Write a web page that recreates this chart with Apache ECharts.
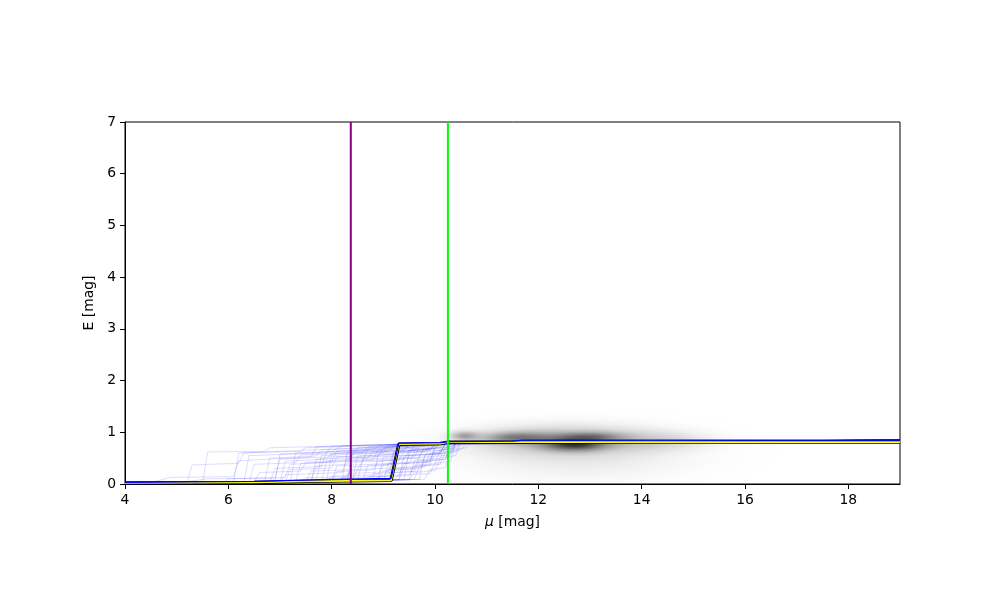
<!DOCTYPE html>
<html>
<head>
<meta charset="utf-8">
<script src="https://cdn.jsdelivr.net/npm/echarts@6/dist/echarts.min.js"></script>
<style>html,body{margin:0;padding:0;background:#fff}#c{width:1000px;height:600px}</style>
</head>
<body>
<div id="c"></div>
<script>
// ---- data ----
const xTicks = [4, 6, 8, 10, 12, 14, 16, 18];
const yTicks = [0, 1, 2, 3, 4, 5, 6, 7];
const xRange = [4, 19];
const yRange = [0, 7];
const purpleLineX = 8.37;
const greenLineX = 10.25;

// density blobs: [mu, E, sigmaMu, sigmaE, peak opacity]
const densityBlobs = [
  [12.8, 0.60, 1.40, 0.32, 0.10],
  [12.5, 0.85, 1.05, 0.17, 0.30],
  [11.6, 0.90, 0.45, 0.07, 0.42],
  [13.0, 0.91, 0.40, 0.06, 0.40],
  [12.7, 0.77, 0.38, 0.08, 0.78],
  [10.57, 0.93, 0.18, 0.06, 0.33],
  [14.3, 0.84, 0.70, 0.12, 0.12]
];

// posterior sample tracks [mu, E]
const sampleTracks = [
  [[4,0],[5.5,0.02],[5.6,0.62],[6.7,0.63],[6.8,0.70],[9.4,0.77],[10.4,0.80],[19,0.84]],
  [[4,0],[5.2,0.03],[5.3,0.37],[6.2,0.40],[6.3,0.60],[8.1,0.68],[8.2,0.74],[10.3,0.80],[19,0.85]],
  [[4,0],[4.5,0.03],[4.9,0.13],[6.1,0.14],[6.2,0.45],[7.6,0.52],[7.7,0.72],[10.4,0.80],[19,0.84]],
  [[4,0],[6.3,0.02],[6.4,0.55],[7.9,0.60],[8.0,0.73],[10.2,0.79],[19,0.85]],
  [[4,0],[6.8,0.02],[6.9,0.30],[7.8,0.34],[7.9,0.62],[9.0,0.66],[9.1,0.76],[10.3,0.80],[19,0.85]],
  [[4,0],[7.0,0.03],[7.1,0.18],[8.2,0.22],[8.3,0.50],[9.5,0.56],[9.6,0.75],[10.4,0.80],[19,0.84]],
  [[4,0],[7.3,0.03],[7.4,0.40],[8.6,0.45],[8.7,0.68],[10.3,0.78],[19,0.85]],
  [[4,0],[7.5,0.04],[7.6,0.25],[8.5,0.28],[8.6,0.45],[9.7,0.50],[9.8,0.74],[10.4,0.80],[19,0.85]],
  [[4,0],[7.7,0.04],[7.8,0.55],[9.0,0.60],[9.1,0.72],[10.3,0.79],[19,0.84]],
  [[4,0],[7.9,0.05],[8.0,0.15],[8.9,0.18],[9.0,0.38],[9.9,0.42],[10.0,0.74],[10.4,0.80],[19,0.85]],
  [[4,0],[8.0,0.05],[8.1,0.35],[9.2,0.40],[9.3,0.70],[10.3,0.79],[19,0.85]],
  [[4,0],[8.2,0.05],[8.3,0.62],[9.4,0.66],[9.5,0.75],[10.4,0.80],[19,0.84]],
  [[4,0],[8.4,0.06],[8.5,0.28],[9.4,0.32],[9.5,0.55],[10.1,0.58],[10.2,0.78],[19,0.85]],
  [[4,0],[8.5,0.06],[8.6,0.48],[9.6,0.52],[9.7,0.72],[10.4,0.80],[19,0.85]],
  [[4,0],[8.7,0.06],[8.8,0.20],[9.6,0.24],[9.7,0.45],[10.2,0.48],[10.3,0.78],[19,0.84]],
  [[4,0],[8.8,0.07],[8.9,0.58],[9.8,0.62],[9.9,0.76],[10.4,0.80],[19,0.85]],
  [[4,0],[9.0,0.07],[9.1,0.40],[9.9,0.45],[10.0,0.70],[10.4,0.80],[19,0.85]],
  [[4,0],[9.1,0.07],[9.2,0.30],[9.8,0.33],[9.9,0.60],[10.3,0.64],[10.4,0.79],[19,0.84]],
  [[4,0],[9.3,0.08],[9.4,0.55],[10.1,0.60],[10.2,0.77],[19,0.85]],
  [[4,0],[9.5,0.08],[9.6,0.22],[10.0,0.26],[10.1,0.50],[10.4,0.55],[10.5,0.79],[19,0.85]],
  [[4,0],[5.9,0.02],[6.0,0.10],[6.9,0.12],[7.0,0.48],[8.4,0.54],[8.5,0.70],[10.3,0.79],[19,0.85]],
  [[4,0],[6.5,0.03],[6.6,0.22],[7.4,0.25],[7.5,0.42],[8.8,0.47],[8.9,0.66],[10.0,0.70],[10.1,0.78],[19,0.84]],
  [[4,0],[6.1,0.02],[6.2,0.60],[7.4,0.63],[7.5,0.70],[9.8,0.77],[10.4,0.80],[19,0.85]],
  [[4,0],[7.2,0.03],[7.3,0.60],[8.8,0.66],[8.9,0.74],[10.4,0.80],[19,0.84]],
  [[4,0],[7.6,0.04],[7.7,0.35],[8.3,0.38],[8.4,0.58],[9.6,0.64],[9.7,0.77],[19,0.85]],
  [[4,0],[8.1,0.05],[8.2,0.12],[9.0,0.15],[9.1,0.28],[9.7,0.30],[9.8,0.52],[10.3,0.56],[10.4,0.79],[19,0.85]],
  [[4,0],[8.6,0.06],[8.7,0.36],[9.5,0.40],[9.6,0.62],[10.2,0.66],[10.3,0.79],[19,0.85]],
  [[4,0],[8.9,0.07],[9.0,0.52],[9.7,0.56],[9.8,0.68],[10.3,0.72],[10.4,0.80],[19,0.84]],
  [[4,0],[9.2,0.08],[9.3,0.18],[9.9,0.20],[10.0,0.40],[10.3,0.44],[10.4,0.78],[19,0.85]],
  [[4,0],[9.4,0.08],[9.5,0.65],[10.2,0.70],[10.3,0.79],[19,0.85]],
  [[4,0],[7.8,0.04],[7.9,0.45],[8.7,0.50],[8.8,0.62],[9.9,0.66],[10.0,0.77],[19,0.84]],
  [[4,0],[8.3,0.05],[8.4,0.42],[9.3,0.46],[9.4,0.64],[10.0,0.68],[10.1,0.78],[19,0.85]],
  [[4,0],[6.9,0.03],[7.0,0.58],[8.0,0.62],[8.1,0.68],[9.9,0.75],[10.3,0.80],[19,0.85]],
  [[4,0],[9.6,0.09],[9.7,0.35],[10.1,0.38],[10.2,0.62],[10.5,0.66],[10.6,0.80],[19,0.85]],
  [[4,0],[8.0,0.05],[8.1,0.24],[8.8,0.27],[8.9,0.44],[9.4,0.47],[9.5,0.66],[10.1,0.70],[10.2,0.79],[19,0.85]],
  [[4,0],[6.7,0.03],[6.8,0.50],[7.7,0.54],[7.8,0.66],[9.3,0.72],[9.4,0.77],[19,0.85]],
  [[4,0],[7.4,0.04],[7.5,0.12],[8.3,0.14],[8.4,0.33],[9.1,0.36],[9.2,0.60],[9.9,0.64],[10.0,0.78],[19,0.84]],
  [[4,0],[9.7,0.09],[9.8,0.56],[10.3,0.60],[10.4,0.79],[19,0.85]],
  [[4,0],[8.8,0.07],[8.9,0.14],[9.5,0.16],[9.6,0.36],[10.0,0.39],[10.1,0.66],[10.4,0.70],[10.5,0.80],[19,0.85]],
  [[4,0],[5.0,0.02],[5.6,0.10],[7.1,0.12],[7.2,0.38],[8.0,0.42],[8.1,0.64],[9.7,0.70],[9.8,0.78],[19,0.85]],
  [[4,0],[7.1,0.03],[7.2,0.28],[8.0,0.31],[8.1,0.52],[9.2,0.57],[9.3,0.74],[10.4,0.80],[19,0.85]],
  [[4,0],[7.6,0.04],[7.7,0.48],[8.9,0.53],[9.0,0.70],[10.3,0.79],[19,0.84]],
  [[4,0],[8.2,0.05],[8.3,0.20],[9.1,0.24],[9.2,0.48],[9.8,0.52],[9.9,0.72],[10.4,0.80],[19,0.85]],
  [[4,0],[8.4,0.06],[8.5,0.54],[9.3,0.58],[9.4,0.70],[10.2,0.76],[10.3,0.80],[19,0.85]],
  [[4,0],[8.9,0.07],[9.0,0.26],[9.6,0.29],[9.7,0.56],[10.1,0.60],[10.2,0.78],[19,0.84]],
  [[4,0],[9.1,0.07],[9.2,0.62],[9.9,0.67],[10.0,0.76],[10.4,0.80],[19,0.85]],
  [[4,0],[9.3,0.08],[9.4,0.32],[9.9,0.36],[10.0,0.58],[10.4,0.62],[10.5,0.80],[19,0.85]],
  [[4,0],[9.5,0.08],[9.6,0.46],[10.1,0.50],[10.2,0.70],[10.4,0.74],[10.5,0.80],[19,0.84]],
  [[4,0],[7.9,0.05],[8.0,0.58],[9.1,0.63],[9.2,0.74],[10.3,0.80],[19,0.85]],
  [[4,0],[8.6,0.06],[8.7,0.14],[9.3,0.17],[9.4,0.40],[9.9,0.43],[10.0,0.64],[10.3,0.68],[10.4,0.79],[19,0.85]],
  [[4,0],[6.4,0.03],[6.5,0.38],[7.3,0.41],[7.4,0.56],[8.6,0.61],[8.7,0.72],[10.3,0.79],[19,0.85]],
  [[4,0],[9.8,0.09],[9.9,0.28],[10.2,0.31],[10.3,0.66],[10.6,0.70],[10.7,0.80],[19,0.85]],
  [[4,0],[8.3,0.05],[8.4,0.66],[9.6,0.71],[9.7,0.77],[19,0.85]],
  [[4,0],[7.0,0.03],[7.1,0.44],[7.9,0.48],[8.0,0.60],[9.4,0.65],[9.5,0.76],[10.4,0.80],[19,0.84]],
  [[4,0],[9.0,0.07],[9.1,0.22],[9.7,0.25],[9.8,0.44],[10.2,0.47],[10.3,0.76],[19,0.85]]
];

// median (black/yellow) and mean (blue) profiles
const medianTrack = [[4,0.02],[6.5,0.03],[7.5,0.05],[9.15,0.07],[9.3,0.77],[10.1,0.78],[10.25,0.81],[11.5,0.81],[19,0.81]];
const meanTrack = [[4,0.03],[6.5,0.05],[8.0,0.09],[9.15,0.11],[9.3,0.79],[10.1,0.80],[10.3,0.82],[11.5,0.83],[11.7,0.85],[19,0.85]];

// ---- chart ----
const FONT = 'DejaVu Sans';
const chart = echarts.init(document.getElementById('c'), null, {renderer: 'canvas'});

function blobRender(params, api) {
  const c = api.coord([api.value(0), api.value(1)]);
  const s = api.size([api.value(2), api.value(3)]);
  const a = api.value(4);
  const rx = Math.max(s[0], 0.5), ry = Math.max(s[1], 0.5);
  const g = [[0,1],[0.17,0.88],[0.33,0.61],[0.5,0.32],[0.67,0.135],[0.83,0.044],[1,0]];
  return {
    type: 'circle',
    x: c[0], y: c[1], scaleX: 1, scaleY: ry / rx,
    shape: {cx: 0, cy: 0, r: 3 * rx},
    style: {fill: {type: 'radial', x: 0.5, y: 0.5, r: 0.5,
      colorStops: g.map(p => ({offset: p[0], color: 'rgba(0,0,0,' + (a * p[1]).toFixed(4) + ')'}))}}
  };
}

const series = [];
series.push({type: 'custom', renderItem: blobRender, data: densityBlobs, encode: {x: 0, y: 1}, silent: true, clip: true, z: 1});
sampleTracks.forEach(t => series.push({
  type: 'line', data: t, symbol: 'none', silent: true, z: 2,
  lineStyle: {color: 'rgba(0,0,255,0.2)', width: 0.7}
}));
series.push({type: 'line', data: medianTrack, symbol: 'none', silent: true, z: 3, lineStyle: {color: '#000', width: 3.4}});
series.push({type: 'line', data: medianTrack, symbol: 'none', silent: true, z: 3, lineStyle: {color: '#ffff00', width: 1.6}});
series.push({type: 'line', data: meanTrack, symbol: 'none', silent: true, z: 4, lineStyle: {color: '#0000ff', width: 1.3}});
series.push({type: 'line', data: [[purpleLineX, yRange[0]], [purpleLineX, yRange[1]]], symbol: 'none', silent: true, z: 5, lineStyle: {color: '#800080', width: 2}});
series.push({type: 'line', data: [[greenLineX, yRange[0]], [greenLineX, yRange[1]]], symbol: 'none', silent: true, z: 5, lineStyle: {color: '#00ff00', width: 2}});

chart.setOption({
  animation: false,
  backgroundColor: '#fff',
  grid: {left: 125, right: 100, top: 122, bottom: 116, show: true, borderColor: '#000', borderWidth: 1, backgroundColor: 'transparent'},
  xAxis: {
    type: 'value', min: xRange[0], max: xRange[1], interval: 2,
    name: '{i|μ} [mag]', nameLocation: 'middle', nameGap: 31,
    nameTextStyle: {fontFamily: FONT, fontSize: 13.9, color: '#000',
      rich: {i: {fontFamily: FONT, fontStyle: 'italic', fontSize: 13.9, color: '#000'}}},
    axisLine: {show: true, onZero: false, lineStyle: {color: '#000', width: 1}},
    axisTick: {show: true, length: 5, inside: false, customValues: xTicks, lineStyle: {color: '#000', width: 1}},
    axisLabel: {customValues: xTicks, margin: 9, fontFamily: FONT, fontSize: 13.9, color: '#000'},
    splitLine: {show: false}
  },
  yAxis: {
    type: 'value', min: yRange[0], max: yRange[1], interval: 1,
    name: 'E [mag]', nameLocation: 'middle', nameGap: 27, nameRotate: 90,
    nameTextStyle: {fontFamily: FONT, fontSize: 13.9, color: '#000'},
    axisLine: {show: true, onZero: false, lineStyle: {color: '#000', width: 1}},
    axisTick: {show: true, length: 5, inside: false, customValues: yTicks, lineStyle: {color: '#000', width: 1}},
    axisLabel: {customValues: yTicks, margin: 9, fontFamily: FONT, fontSize: 13.9, color: '#000'},
    splitLine: {show: false}
  },
  series: series
});
</script>
</body>
</html>
